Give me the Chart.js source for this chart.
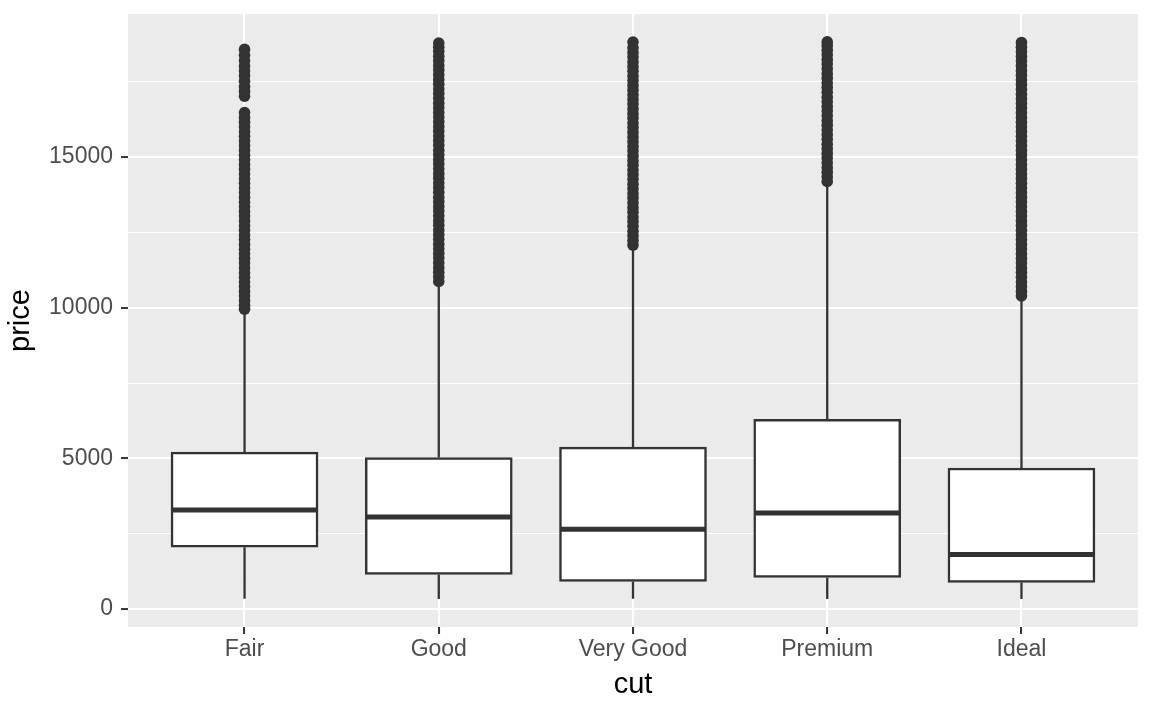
<!DOCTYPE html>
<html>
<head>
<meta charset="utf-8">
<script src="https://cdn.jsdelivr.net/npm/chart.js@4/dist/chart.umd.min.js"></script>
<style>
html,body{margin:0;padding:0;background:#fff;}
canvas{display:block;}
</style>
</head>
<body>
<canvas id="c" width="1152" height="711"></canvas>
<script>
// ---- data (diamonds: price by cut) ----
const cuts = ["Fair", "Good", "Very Good", "Premium", "Ideal"];
const lowerWhisker = [337, 327, 336, 326, 326];
const q1 = [2050, 1145, 912, 1046, 878];
const medians = [3282, 3050, 2648, 3185, 1810];
const q3 = [5206, 5028, 5373, 6296, 4678];
const upperWhisker = [9935, 10848, 12058, 14168, 10369];

const outFair = [9950, 10080, 10230, 10390, 10540, 10700, 10850, 11010, 11160, 11320, 11480, 11630, 11790, 11940, 12100, 12260, 12410, 12570, 12720, 12880, 13040, 13190, 13350, 13500, 13660, 13820, 13970, 14130, 14280, 14440, 14600, 14750, 14910, 15060, 15220, 15380, 15530, 15690, 15840, 16000, 16160, 16310, 16480,
  17020, 17180, 17340, 17520, 17700, 17860, 18020, 18200, 18380, 18574];
const outGood = [10870, 11020, 11180, 11330, 11490, 11650, 11800, 11960, 12110, 12270, 12430, 12580, 12740, 12890, 13050, 13210, 13360, 13520, 13670, 13830, 13990, 14140, 14300, 14450, 14610, 14770, 14920, 15080, 15230, 15390, 15550, 15700, 15860, 16010, 16170, 16330, 16480, 16640, 16790, 16950, 17110, 17260, 17420, 17570, 17730, 17890, 18040, 18200, 18350, 18510, 18650, 18788];
const outVeryGood = [12080, 12230, 12390, 12540, 12700, 12860, 13010, 13170, 13320, 13480, 13640, 13790, 13950, 14100, 14260, 14420, 14570, 14730, 14880, 15040, 15200, 15350, 15510, 15660, 15820, 15980, 16130, 16290, 16440, 16600, 16760, 16910, 17070, 17220, 17380, 17540, 17690, 17850, 18000, 18160, 18320, 18470, 18630, 18818];
const outPremium = [14190, 14340, 14500, 14650, 14810, 14970, 15120, 15280, 15430, 15590, 15750, 15900, 16060, 16210, 16370, 16530, 16680, 16840, 16990, 17150, 17310, 17460, 17620, 17770, 17930, 18090, 18240, 18400, 18550, 18700, 18823];
const outIdeal = [10390, 10540, 10700, 10850, 11010, 11170, 11320, 11480, 11630, 11790, 11950, 12100, 12260, 12410, 12570, 12730, 12880, 13040, 13190, 13350, 13510, 13660, 13820, 13970, 14130, 14290, 14440, 14600, 14750, 14910, 15070, 15220, 15380, 15530, 15690, 15850, 16000, 16160, 16310, 16470, 16630, 16780, 16940, 17090, 17250, 17410, 17560, 17720, 17870, 18030, 18190, 18340, 18500, 18650, 18806];
const outliers = [outFair, outGood, outVeryGood, outPremium, outIdeal];

const yTicks = [0, 2500, 5000, 7500, 10000, 12500, 15000, 17500];

// ---- build datasets ----
const HALF = 0.375;
const boxData = cuts.map((c, i) => ({x: i + 1, y: [q1[i], q3[i]]}));
const whiskerData = [];
cuts.forEach((c, i) => {
  whiskerData.push({x: i + 1, y: lowerWhisker[i]}, {x: i + 1, y: q1[i]}, {x: i + 1, y: null});
  whiskerData.push({x: i + 1, y: q3[i]}, {x: i + 1, y: upperWhisker[i]}, {x: i + 1, y: null});
});
const medianData = [];
cuts.forEach((c, i) => {
  medianData.push({x: i + 1 - HALF, y: medians[i]}, {x: i + 1 + HALF, y: medians[i]}, {x: i + 1, y: null});
});
const outlierData = [];
outliers.forEach((arr, i) => arr.forEach(v => outlierData.push({x: i + 1, y: v})));

const panelBg = {
  id: 'panelBg',
  beforeDraw(chart) {
    const {ctx, chartArea: a} = chart;
    ctx.save();
    ctx.fillStyle = '#EBEBEB';
    ctx.fillRect(a.left, a.top, a.right - a.left, a.bottom - a.top);
    ctx.restore();
  }
};

const FONT = "'Liberation Sans', Arial, Helvetica, sans-serif";

new Chart(document.getElementById('c'), {
  type: 'bar',
  data: {
    datasets: [
      {
        type: 'scatter', data: outlierData, order: 4,
        pointRadius: 5.8, pointBackgroundColor: '#333333', pointBorderWidth: 0, pointBorderColor: '#333333'
      },
      {
        type: 'bar', data: boxData, order: 3,
        backgroundColor: '#FFFFFF', borderColor: '#333333', borderWidth: 2.5, borderSkipped: false,
        barThickness: 147, grouped: false
      },
      {
        type: 'scatter', data: whiskerData, order: 2, showLine: true, spanGaps: false,
        borderColor: '#333333', borderWidth: 2.3, pointRadius: 0
      },
      {
        type: 'scatter', data: medianData, order: 1, showLine: true, spanGaps: false,
        borderColor: '#333333', borderWidth: 5, borderCapStyle: 'butt', pointRadius: 0
      }
    ]
  },
  options: {
    responsive: false,
    animation: false,
    devicePixelRatio: 1,
    layout: {padding: {top: 14, right: 14, left: 0, bottom: 0}},
    plugins: {legend: {display: false}, tooltip: {enabled: false}},
    scales: {
      x: {
        type: 'linear', min: 0.4, max: 5.6, offset: false,
        afterBuildTicks(scale) { scale.ticks = cuts.map((c, i) => ({value: i + 1})); },
        afterFit(scale) { scale.height = 84; scale.paddingLeft = 0; scale.paddingRight = 0; },
        ticks: {
          callback: (v) => cuts[Math.round(v) - 1] || '',
          color: '#4D4D4D', font: {family: FONT, size: 23}, padding: 2, maxRotation: 0, autoSkip: false
        },
        grid: {color: '#FFFFFF', lineWidth: 2.1, offset: false, tickColor: '#333333', tickLength: 7, tickWidth: 2},
        border: {display: false},
        title: {display: true, text: 'cut', color: '#000000', font: {family: FONT, size: 29}, padding: {top: 9, bottom: 9}}
      },
      y: {
        type: 'linear', min: -600, max: 19750,
        afterBuildTicks(scale) { scale.ticks = yTicks.map(v => ({value: v})); },
        afterFit(scale) { scale.width = 128; scale.paddingTop = 0; scale.paddingBottom = 0; },
        ticks: {
          callback: (v) => (v % 5000 === 0 ? String(v) : ''),
          color: '#4D4D4D', font: {family: FONT, size: 23}, padding: 8, autoSkip: false
        },
        grid: {
          color: '#FFFFFF',
          lineWidth: (ctx) => (ctx.tick && ctx.tick.value % 5000 === 0 ? 2.1 : 1),
          tickColor: (ctx) => (ctx.tick && ctx.tick.value % 5000 === 0 ? '#333333' : 'rgba(0,0,0,0)'),
          tickLength: 7, tickWidth: 2
        },
        border: {display: false},
        title: {display: true, text: 'price', color: '#000000', font: {family: FONT, size: 29}, padding: {top: 4, bottom: 4}}
      }
    }
  },
  plugins: [panelBg]
});
</script>
</body>
</html>
